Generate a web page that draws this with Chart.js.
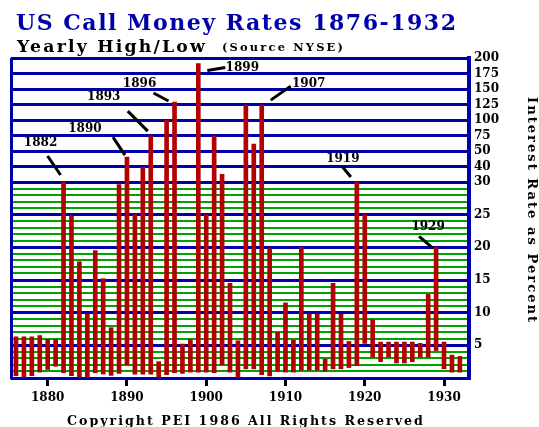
<!DOCTYPE html>
<html>
<head>
<meta charset="utf-8">
<script src="https://cdn.jsdelivr.net/npm/chart.js@4.4.1/dist/chart.umd.min.js"></script>
<style>
html,body{margin:0;padding:0;background:#fff;}
canvas{display:block;}
</style>
</head>
<body>
<canvas id="myChart" width="539" height="427"></canvas>
<script>
'use strict';
// yearly call money rates, percent
let years=[1876,1877,1878,1879,1880,1881,1882,1883,1884,1885,1886,1887,1888,1889,1890,1891,1892,1893,1894,1895,1896,1897,1898,1899,1900,1901,1902,1903,1904,1905,1906,1907,1908,1909,1910,1911,1912,1913,1914,1915,1916,1917,1918,1919,1920,1921,1922,1923,1924,1925,1926,1927,1928,1929,1930,1931,1932];
let highs=[6.3,6.3,6.3,6.5,5.9,5.9,30,24.8,17.8,9.8,19.5,15.2,7.7,29.6,46,25,39.5,74,2.5,100,129,5.2,5.9,191,25,74,35,14.5,5.7,124,61,124,19.8,7,11.5,5.8,20,9.8,9.8,2.9,14.5,9.8,5.6,30,25,8.9,5.5,5.5,5.5,5.5,5.5,5.3,12.8,20,5.5,3.5,3.3];
let lows=[0.35,0.1,0.35,0.9,1.3,1.8,0.8,0.35,0.1,0.1,0.8,0.6,0.4,0.7,2,0.6,0.6,0.6,0.1,0.5,0.8,0.7,0.9,0.9,0.9,0.8,2,0.9,0.1,1.4,1.4,0.5,0.3,1,0.9,0.9,1.2,1.2,1.2,1,1.4,1.4,1.6,1.9,5.3,3.2,2.5,3.2,2.3,2.3,2.5,3.2,3.2,4.2,1.4,0.9,0.9];

let yearTicks=[1880,1890,1900,1910,1920,1930];
let rateLabels=[5,10,15,20,25,30,40,50,75,100,125,150,175,200];
let upperSteps=[30,40,50,75,100,125,150,175,200];
let noteYears=[1882,1890,1893,1896,1899,1907,1919,1929];
// pointer line start/end and label centre, offsets from the bar top
let noteOffsets=[
  [-16,-26,-3,-7,-23,-39],
  [-14,-20,-2,-2,-42,-28],
  [-23,-25,-3,-5,-47,-39],
  [-21,-9,-6,-1,-35,-18],
  [9,7,27,4,44,4],
  [9,-5,29,-19,47,-21],
  [-15,-16,-6,-5,-14,-23],
  [-17,-11,-3,1,-8,-20]
];

let blue='#0000aa';
let green='#00a400';
let red='#b00000';
let lowTop=30;
let stepUnits=2.3725;

// piecewise scale: linear to 30, then equal steps 30,40,50,75...200
function toAxis(v)
{
  if(v<=lowTop) return v;
  for(let i=1;i<upperSteps.length;i++)
  {
    if(v<=upperSteps[i])
    {
      let a=upperSteps[i-1], b=upperSteps[i];
      return lowTop+(i-1+(v-a)/(b-a))*stepUnits;
    }
  }
  return lowTop+(upperSteps.length-1)*stepUnits;
}
function fromAxis(u)
{
  if(u<=lowTop+1e-6) return Math.round(u*100)/100;
  let k=(u-lowTop)/stepUnits;
  let i=Math.floor(k+1e-6);
  if(i>=upperSteps.length-1) return upperSteps[upperSteps.length-1];
  let a=upperSteps[i], b=upperSteps[i+1];
  return Math.round((a+(k-i)*(b-a))*100)/100;
}
let gridValues=[];
for(let i=0;i<=lowTop;i++){gridValues.push(i);}
for(let i=1;i<upperSteps.length;i++){gridValues.push(upperSteps[i]);}

let bars=[];
for(let i=0;i<years.length;i++)
{
  bars.push({x:years[i],y:[toAxis(lows[i]),toAxis(highs[i])]});
}

function isMajor(v)
{
  return v%5===0 || v>lowTop;
}

// pick a font size so the text spans the given width with the given letter spacing
function fitText(ctx,text,x,y,width,ls,family,color)
{
  ctx.letterSpacing='0px';
  ctx.font='bold 20px '+family;
  let w=ctx.measureText(text).width;
  let size=20*(width-ls*(text.length-1))/w;
  ctx.font='bold '+size.toFixed(2)+'px '+family;
  ctx.fillStyle=color;
  ctx.letterSpacing=ls+'px';
  ctx.fillText(text,x,y);
  ctx.letterSpacing='0px';
}

let decor={
  id:'decor',
  beforeDatasetsDraw(chart)
  {
    let c=chart.ctx, a=chart.chartArea;
    c.save();
    c.strokeStyle=blue;
    c.lineWidth=3;
    c.beginPath();
    c.moveTo(a.left+0.5,a.top);
    c.lineTo(a.left+0.5,a.bottom+1.5);
    c.stroke();
    c.restore();
  },
  afterDraw(chart)
  {
    let c=chart.ctx;
    let xs=chart.scales.x, ys=chart.scales.y;
    let serif='"DejaVu Serif"';
    c.save();
    c.textBaseline='alphabetic';
    c.textAlign='left';
    fitText(c,'US Call Money Rates 1876-1932',16,29.5,440,1.5,serif,blue);
    fitText(c,'Yearly High/Low',17,51.5,188,2.2,serif,'#000');
    fitText(c,'(Source NYSE)',222,51,121,2.2,serif,'#000');
    fitText(c,'Copyright PEI 1986 All Rights Reserved',67,425,356,2,serif,'#000');

    c.save();
    c.translate(528,97);
    c.rotate(Math.PI/2);
    fitText(c,'Interest Rate as Percent',0,0,225,2,serif,'#000');
    c.restore();

    // year call-outs
    c.strokeStyle='#000';
    c.lineWidth=3;
    c.font='bold 12px '+serif;
    c.fillStyle='#000';
    c.textAlign='center';
    c.textBaseline='middle';
    for(let i=0;i<noteYears.length;i++)
    {
      let idx=years.indexOf(noteYears[i]);
      let px=xs.getPixelForValue(noteYears[i]);
      let py=ys.getPixelForValue(toAxis(highs[idx]));
      let o=noteOffsets[i];
      c.beginPath();
      c.moveTo(px+o[0],py+o[1]);
      c.lineTo(px+o[2],py+o[3]);
      c.stroke();
      c.fillText(String(noteYears[i]),px+o[4],py+o[5]);
    }
    c.restore();
  }
};

let tickFont={family:'DejaVu Serif',size:12,weight:'bold'};

let ctx=document.getElementById('myChart').getContext('2d');
let myChart=new Chart(ctx,{
  type:'bar',
  data:{
    datasets:[{
      data:bars,
      backgroundColor:red,
      borderWidth:0,
      barThickness:4
    }]
  },
  options:{
    responsive:false,
    animation:false,
    devicePixelRatio:1,
    layout:{padding:{top:58,left:11,right:0,bottom:0}},
    plugins:{legend:{display:false},tooltip:{enabled:false}},
    scales:{
      x:{
        type:'linear',
        min:1875.37,
        max:1933.15,
        offset:false,
        afterBuildTicks:function(s){s.ticks=yearTicks.map(function(v){return {value:v};});},
        afterFit:function(s){s.height=49;},
        grid:{drawOnChartArea:false,drawTicks:true,tickLength:8,tickWidth:3,tickColor:'#000',offset:false},
        border:{display:false},
        ticks:{font:tickFont,color:'#000',padding:5,maxRotation:0,autoSkip:false,
          callback:function(v){return String(v);}}
      },
      y:{
        position:'right',
        min:0,
        max:toAxis(200),
        afterBuildTicks:function(s){s.ticks=gridValues.map(function(v){return {value:toAxis(v)};});},
        afterFit:function(s){s.width=70;},
        grid:{
          drawTicks:false,
          color:function(c){ if(!c.tick) return blue; return isMajor(fromAxis(c.tick.value))?blue:green; },
          lineWidth:function(c){ if(!c.tick) return 3; return isMajor(fromAxis(c.tick.value))?3:2; }
        },
        border:{color:blue,width:4},
        ticks:{font:tickFont,color:'#000',padding:5,autoSkip:false,
          callback:function(v){ let r=fromAxis(v); return rateLabels.includes(r)?String(r):''; }}
      }
    }
  },
  plugins:[decor]
});
</script>
</body>
</html>
